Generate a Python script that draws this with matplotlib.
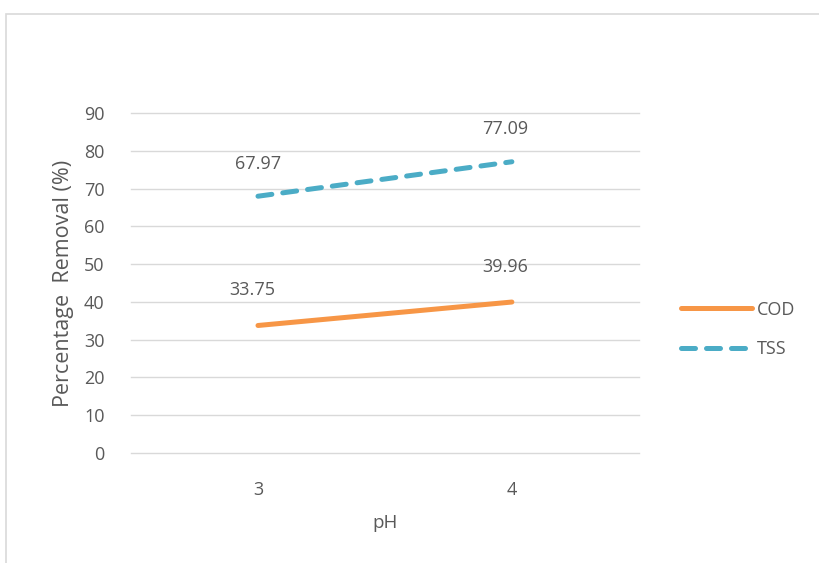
import matplotlib.pyplot as plt
import matplotlib.patches as patches

ph_values = ['3', '4']
cod_removal = [33.75, 39.96]
tss_removal = [67.97, 77.09]
y_ticks = [0, 10, 20, 30, 40, 50, 60, 70, 80, 90]

text_color = '#595959'
plt.rcParams['font.family'] = ['Open Sans', 'DejaVu Sans']

fig = plt.figure(figsize=(8.19, 5.63), dpi=100)
ax = fig.add_axes([0.160, 0.1954, 0.620, 0.6039])

# outer chart border
fig.patches.append(patches.Rectangle((6 / 819, -0.01), 1.0, 1 - 14 / 563 + 0.01,
                                     transform=fig.transFigure, fill=False,
                                     edgecolor='#D9D9D9', linewidth=1.2))

x = range(len(ph_values))
ax.plot(x, cod_removal, color='#F79646', linewidth=3.6, solid_capstyle='round', label='COD')
ax.plot(x, tss_removal, color='#4BACC6', linewidth=3.6, linestyle=(0, (2.8, 2.2)),
        dash_capstyle='round', label='TSS')

for i, v in enumerate(cod_removal):
    ax.annotate(f'{v:.2f}', (i, v), xytext=(-4 if i == 0 else -5, 19), textcoords='offset points',
                ha='center', va='bottom', fontsize=13, color=text_color)
for i, v in enumerate(tss_removal):
    ax.annotate(f'{v:.2f}', (i, v), xytext=(0 if i == 0 else -5, 17), textcoords='offset points',
                ha='center', va='bottom', fontsize=13, color=text_color)

ax.set_xlim(-0.5, 1.5)
ax.set_ylim(0, 90)
ax.set_xticks(list(x))
ax.set_xticklabels(ph_values)
ax.set_yticks(y_ticks)
ax.grid(axis='y', color='#D9D9D9', linewidth=1)
for gl in ax.get_ygridlines():
    gl.set_clip_on(False)
ax.set_axisbelow(True)
for s in ax.spines.values():
    s.set_visible(False)
ax.tick_params(length=0, labelsize=13, labelcolor=text_color)
ax.tick_params(axis='y', pad=19)
ax.tick_params(axis='x', pad=20)

ax.set_xlabel('pH', fontsize=13.5, color=text_color, labelpad=11)
ax.set_ylabel('Percentage  Removal (%)', fontsize=15.5, color=text_color, labelpad=7)

leg = fig.legend(loc='center left', bbox_to_anchor=(0.812, 0.415), frameon=False,
                 fontsize=13, handlelength=3.9, labelspacing=1.2, handletextpad=0.3)
for t in leg.get_texts():
    t.set_color(text_color)

fig.savefig('out.png', dpi=100)
